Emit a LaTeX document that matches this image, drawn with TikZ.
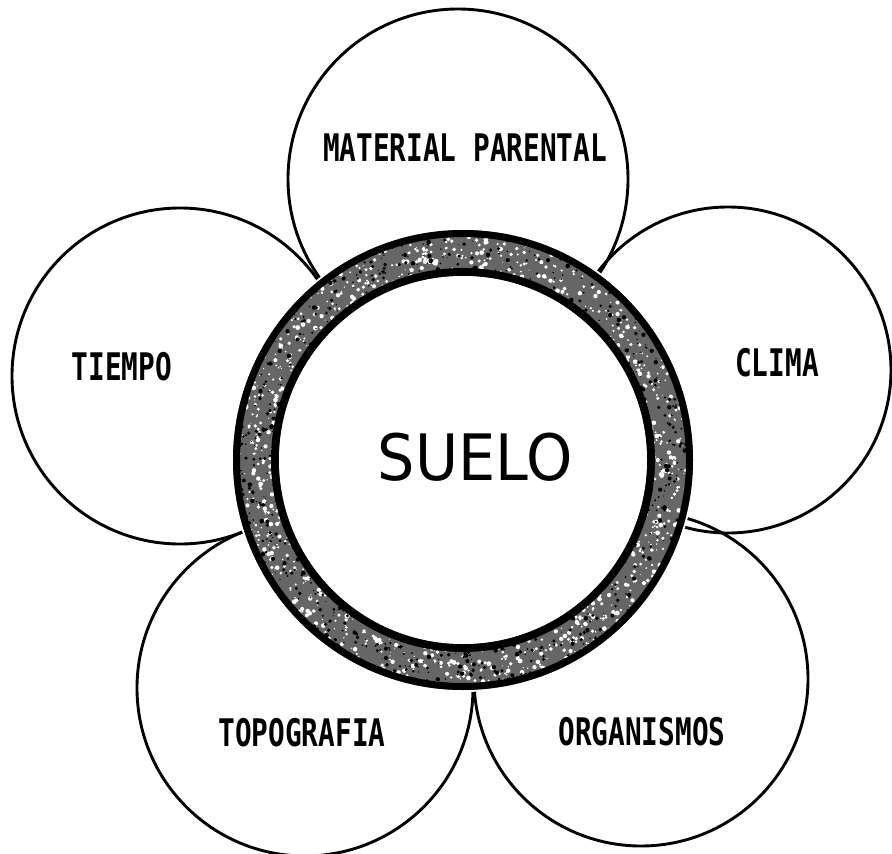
\documentclass[tikz,border=0pt]{standalone}
\usepackage{fontspec}
\newfontfamily\petalfont{DejaVu Sans Mono}
\newfontfamily\suelofont{DejaVu Sans}
\begin{document}
\begin{tikzpicture}[x=1pt,y=-1pt,
  petal/.style={circle, draw=black, line width=2.9pt, inner sep=0pt, minimum size=#1},
  ptext/.style={font=\petalfont\bfseries\fontsize{38}{38}\selectfont, xscale=0.73, inner sep=0pt},
  speckw/.style={fill=white},
  speckb/.style={fill=black},
]
\useasboundingbox (0,0) rectangle (892,854);
\pgfmathsetseed{7}
% petals
\node[petal=340pt] (mat) at (458,179) {};
\node[petal=326pt] (clima) at (728,370) {};
\node[petal=336pt] (tiempo) at (180,376) {};
\node[petal=336pt] (topo) at (305,688) {};
\node[petal=334pt] (org) at (641,679) {};
% petal labels
\node[ptext] (tmat) at (465,148) {MATERIAL PARENTAL};
\node[ptext] (tclima) at (777,363) {CLIMA};
\node[ptext] (ttiempo) at (122,367) {TIEMPO};
\node[ptext] (ttopo) at (302,733) {TOPOGRAFIA};
\node[ptext] (torg) at (642,732) {ORGANISMOS};
% ring
\node[circle, inner sep=0pt, minimum size=464pt, fill=white] (ringbg) at (463,460) {};
\node[circle, inner sep=0pt, minimum size=460pt, fill=black!60] (ring) at (463,460) {};
\foreach \i in {1,...,900}{
  \pgfmathsetmacro\ang{360*rnd}
  \pgfmathsetmacro\rad{190+36*rnd}
  \pgfmathsetmacro\sz{0.5+1.9*rnd}
  \fill[speckw] ([shift={(\ang:\rad)}]ring.center) circle (\sz);
}
\foreach \i in {1,...,600}{
  \pgfmathsetmacro\ang{360*rnd}
  \pgfmathsetmacro\rad{190+36*rnd}
  \pgfmathsetmacro\sz{0.5+1.8*rnd}
  \fill[speckb] ([shift={(\ang:\rad)}]ring.center) circle (\sz);
}
\draw[line width=7pt] (ring.center) circle (226.5);
\draw[line width=8pt] (ring.center) circle (188);
\node[circle, inner sep=0pt, minimum size=368pt, fill=white] (core) at (ring.center) {};
\node[font=\suelofont\fontsize{64}{64}\selectfont, xscale=0.92, inner sep=0pt] (suelo) at (475,457) {SUELO};
\end{tikzpicture}
\end{document}
